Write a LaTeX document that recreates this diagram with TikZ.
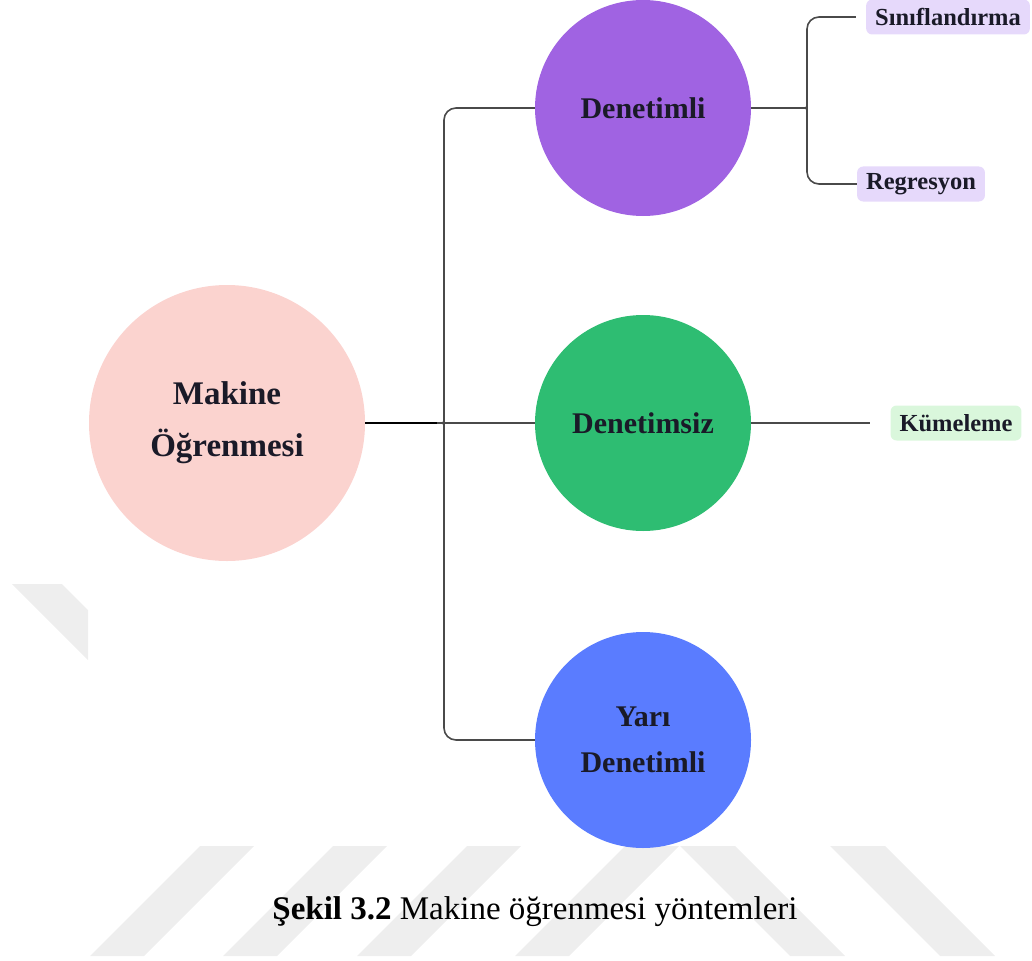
\documentclass[tikz,border=0pt]{standalone}
\usepackage{fontspec}
\setmainfont{Liberation Serif}
\definecolor{pembe}{HTML}{FBD3CF}
\definecolor{mor}{HTML}{A063E2}
\definecolor{yesil}{HTML}{2EBD72}
\definecolor{mavi}{HTML}{5A7CFF}
\definecolor{acikmor}{HTML}{E6D9FB}
\definecolor{acikyesil}{HTML}{DAF7DC}
\definecolor{gri}{HTML}{4A4A4A}
\definecolor{filigran}{HTML}{EEEEEE}
\definecolor{yazi}{HTML}{1A1A28}

\begin{document}
\begin{tikzpicture}[x = 1pt, y = -1pt,
		kok/.style = {circle, fill = pembe, minimum size = 276pt, inner sep = 0pt, align = center, text = yazi, font = \bfseries\fontsize{33}{52}\selectfont},
		dal/.style = {circle, minimum size = 216pt, inner sep = 0pt, align = center, text = yazi, font = \bfseries\fontsize{30}{46}\selectfont},
		etiket/.style = {rounded corners = 6pt, minimum height = 35pt, inner xsep = 9pt, text = yazi, font = \bfseries\fontsize{24.5}{28}\selectfont},
		hat/.style = {draw = gri, line width = 1.6pt, rounded corners = 12pt}]
		\useasboundingbox (0, 0) rectangle (1032, 960);
		% filigran
		\fill[filigran] (12, 584) -- (62, 584) -- (88, 610) -- (88, 660) -- cycle;
		\foreach \x in {200, 333, 467, 625}
			\fill[filigran] (\x, 846) -- ++(54, 0) -- ++(-110, 110) -- ++(-54, 0) -- cycle;
		\foreach \x in {680, 830}
			\fill[filigran] (\x, 846) -- ++(55, 0) -- ++(110, 110) -- ++(-55, 0) -- cycle;

		\node[kok] (makine) at (227, 423) {Makine\\Öğrenmesi};
		\node[dal, fill = mor] (denetimli) at (643, 108) {Denetimli};
		\node[dal, fill = yesil] (denetimsiz) at (643, 423) {Denetimsiz};
		\node[dal, fill = mavi] (yari) at (643, 740) {Yarı\\Denetimli};

		\node[etiket, fill = acikmor] (sinif) at (948, 17) {Sınıflandırma};
		\node[etiket, fill = acikmor] (regresyon) at (921, 184) {Regresyon};
		\node[etiket, fill = acikyesil] (kumeleme) at (956, 423) {Kümeleme};

		\coordinate (sol) at (437, 423);
		\coordinate (sag) at (800, 108);
		\coordinate (kumeuc) at (870, 423);
		\draw[line width = 2pt] (makine.east) -- (sol);
		\draw[hat] (sol) .. controls (444, 423) .. (444, 413) |- (denetimli.west);
		\draw[hat] (sol) -- (denetimsiz.west);
		\draw[hat] (sol) .. controls (444, 423) .. (444, 433) |- (yari.west);
		\draw[hat] (denetimli.east) -- (sag);
		\draw[hat] (sag) .. controls (807, 108) .. (807, 98) |- ([xshift = -10pt] sinif.west);
		\draw[hat] (sag) .. controls (807, 108) .. (807, 118) |- (regresyon.west);
		\draw[hat] (denetimsiz.east) -- (kumeuc);

		\node[font = \fontsize{33}{40}\selectfont] (baslik) at (535, 912) {\textbf{Şekil 3.2} Makine öğrenmesi yöntemleri};
	\end{tikzpicture}
\end{document}
